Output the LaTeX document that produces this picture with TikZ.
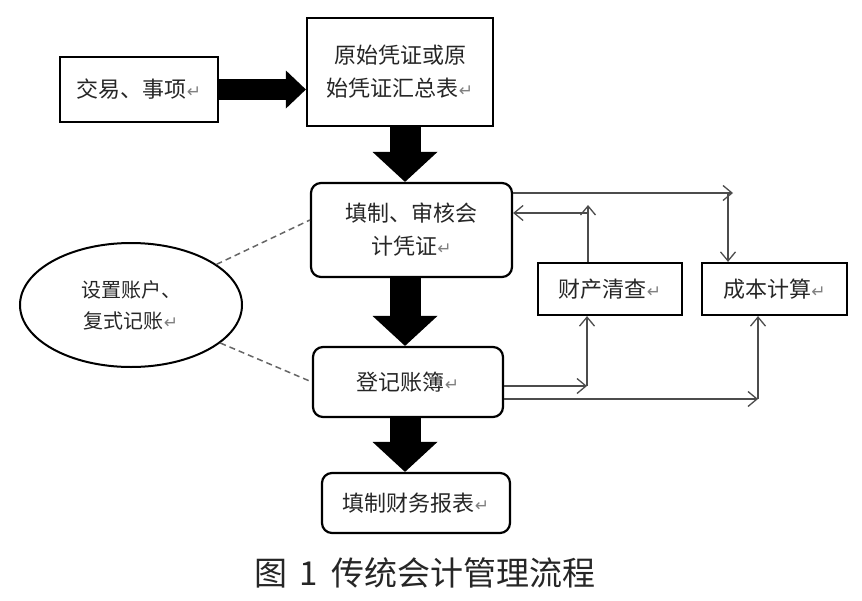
\documentclass[tikz,border=0pt]{standalone}
\usepackage{fontspec}
\setmainfont{Noto Sans CJK SC}
\newfontfamily\markfont{DejaVu Sans}
\usetikzlibrary{arrows.meta,shapes.geometric}

\newcommand{\ret}{{\markfont\color{black!50}\fontsize{17}{17}\selectfont ↵}}

\begin{document}
\begin{tikzpicture}[x=1pt,y=-1pt]
\tikzstyle{every node}=[text=black!85]
\tikzstyle{flowbox}=[draw,line width=2.2pt,inner sep=0pt,align=center,font=\fontsize{22}{33}\selectfont]
\tikzstyle{roundbox}=[flowbox,rounded corners=10pt]
\tikzstyle{fatarrow}=[line width=31pt,-{Triangle[length=30pt,width=65pt,line width=0pt]}]
\tikzstyle{fatarrowh}=[line width=21pt,-{Triangle[length=20pt,width=38pt,line width=0pt]}]
\tikzstyle{thinarrow}=[draw=black!70,line width=1.3pt,-{Straight Barb[length=9pt,width=15pt]}]
\tikzstyle{dashline}=[draw=black!60,line width=1.5pt,dash pattern=on 6pt off 4pt]

\useasboundingbox (0,0) rectangle (862,600);

%% Main flow
\node [flowbox,minimum width=158pt,minimum height=65pt] (trade) at (139,89.5) {交易、事项\ret};
\node [flowbox,minimum width=186pt,minimum height=108pt] (voucher) at (400,72) {原始凭证或原\\始凭证汇总表\ret};
\node [roundbox,minimum width=201pt,minimum height=94pt] (check) at (411.5,230) {填制、审核会\\计凭证\ret};
\node [roundbox,minimum width=190pt,minimum height=70pt] (ledger) at (408,382) {登记账簿\ret};
\node [roundbox,minimum width=188pt,minimum height=60pt] (report) at (416,503) {填制财务报表\ret};

%% Side boxes
\node [flowbox,minimum width=144pt,minimum height=52pt] (stock) at (610,289) {财产清查\ret};
\node [flowbox,minimum width=145pt,minimum height=52pt] (cost) at (774.5,289) {成本计算\ret};
\node [draw,ellipse,line width=2pt,inner sep=0pt,minimum width=222pt,minimum height=124pt,
       align=center,font=\fontsize{20}{31}\selectfont] (account) at (131,305) {设置账户、\\复式记账\ret};

\node [font=\fontsize{33}{33}\selectfont] (caption) at (425,573) {图\hspace{0.35em}1\hspace{0.4em}传统会计管理流程};

%% Fat arrows
\coordinate (axis) at (405,0);
\draw [fatarrowh] (trade.east) -- (trade.east -| voucher.west);
\draw [fatarrow] (axis |- voucher.south) -- (axis |- check.north);
\draw [fatarrow] (axis |- check.south) -- (axis |- ledger.north);
\draw [fatarrow] (axis |- ledger.south) -- (axis |- report.north);

%% Dashed links
\draw [dashline] (account) -- ([yshift=10pt]check.west);
\draw [dashline] (account) -- (ledger.west);

%% Thin arrows
\coordinate (ra) at (733,193);
\coordinate (rb) at (728,193);
\coordinate (ca) at (588,205);
\coordinate (cb) at (588,213);
\coordinate (da) at (587,386);
\coordinate (db) at (758,399);
\draw [thinarrow] (check.east |- ra) -- (ra);
\draw [thinarrow] (rb) -- (rb |- cost.north);
\draw [thinarrow] (ca |- stock.north) -- (ca);
\draw [thinarrow] (cb) -- (cb -| check.east);
\draw [thinarrow] (ledger.east |- da) -- (da);
\draw [thinarrow] (da) -- (da |- stock.south);
\draw [thinarrow] (ledger.east |- db) -- (db);
\draw [thinarrow] (db) -- (db |- cost.south);

\end{tikzpicture}
\end{document}
